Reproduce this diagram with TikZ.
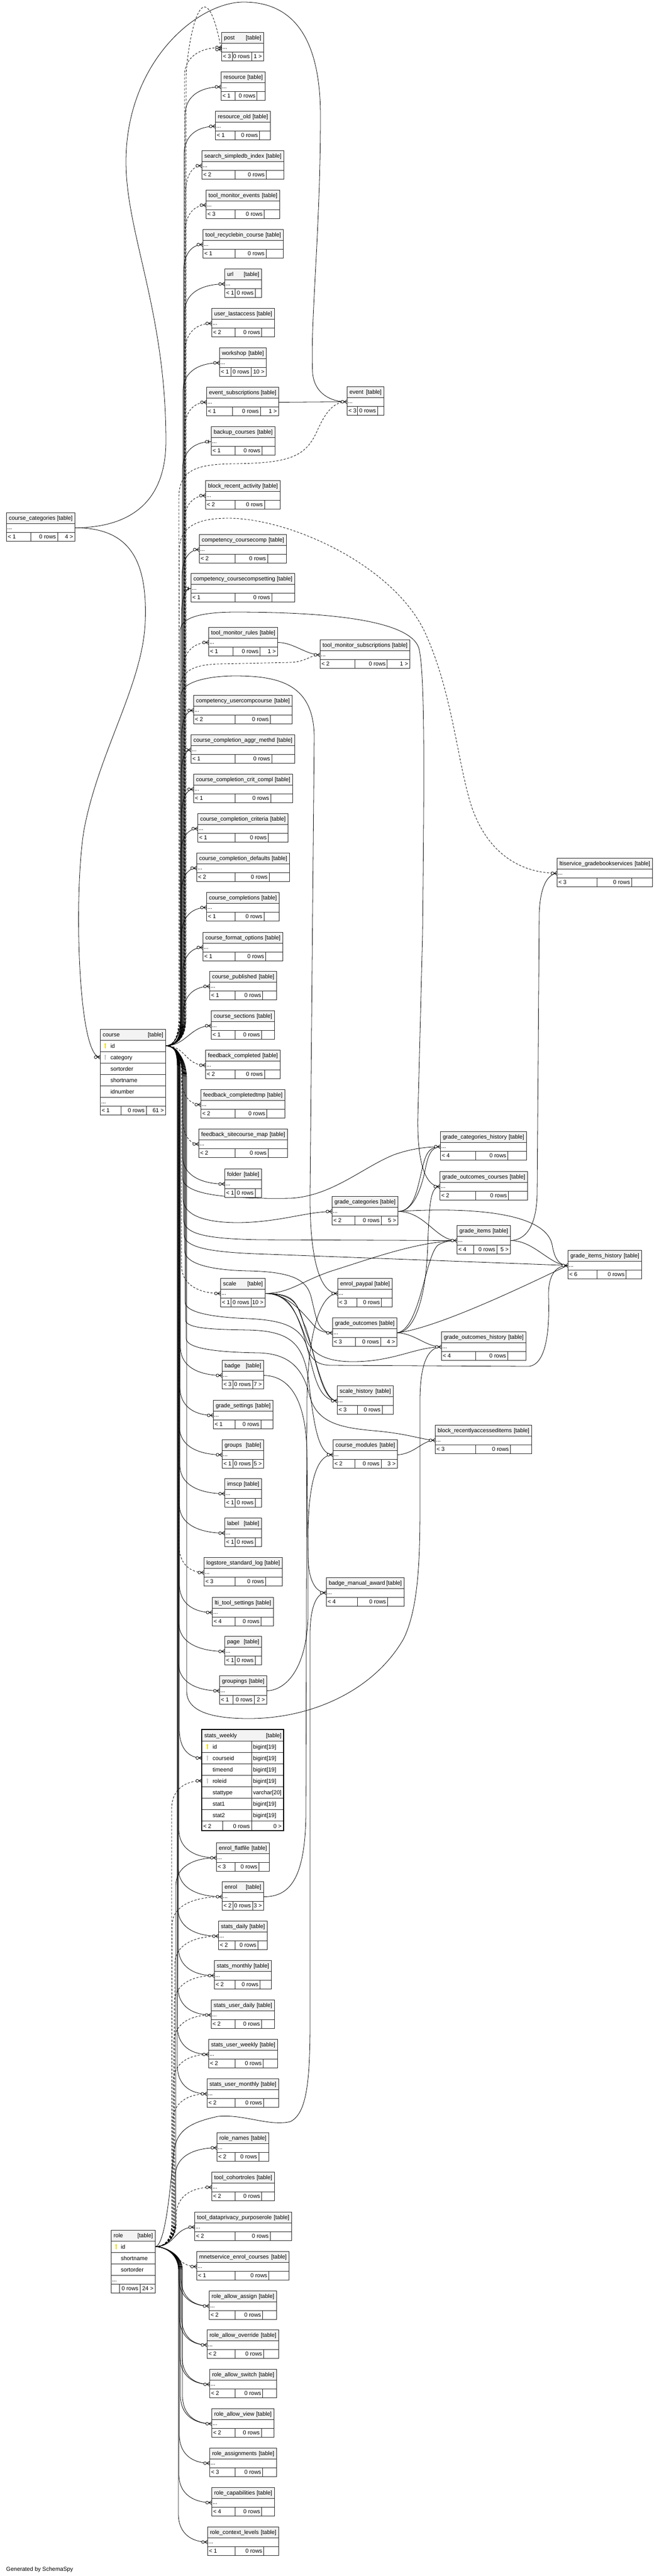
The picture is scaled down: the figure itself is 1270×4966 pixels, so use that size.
\documentclass[tikz,border=0pt]{standalone}
\usepackage{fontspec}
\setmainfont{Liberation Sans}
\usetikzlibrary{calc}
\pgfdeclarelayer{bgl}\pgfdeclarelayer{lnl}\pgfsetlayers{bgl,lnl,main}
\definecolor{hdr}{HTML}{F3F3F3}
\definecolor{bdc}{HTML}{222222}
\definecolor{pkc}{HTML}{EEDD00}
\definecolor{fkc}{HTML}{C4C4C4}
\tikzset{
  rel/.style={line width=0.8pt,draw=black},
  dsh/.style={dash pattern=on 4pt off 3pt},
  bd/.style={draw=bdc,line width=0.9pt},
  txt/.style={inner sep=0pt,outer sep=0pt,font=\fontsize{11}{13}\selectfont},
  crow/.pic={\draw[line width=0.8pt] (-5.5,0)--(0,-3.5) (-5.5,0)--(0,0) (-5.5,0)--(0,3.5);
             \draw[line width=0.8pt,fill=white] (-8.5,0) circle (2.7pt);},
  crowbar/.pic={\draw[line width=0.8pt] (-4.5,-3.5)--(-4.5,3.5) (-5.5,0)--(0,0);
             \draw[line width=0.8pt,fill=white] (-8.2,0) circle (2.7pt);}
}
\newcommand\tcore[7]{%
  \node[inner sep=0pt,outer sep=0pt,minimum width={#4pt-#3pt},minimum height=55pt,anchor=north west,fill=white] (#1) at (#3,#5) {};
  \fill[hdr] (#3,#5) rectangle (#4,#5+21);
  \draw[bd] (#3,#5) rectangle (#4,#5+55);
  \draw[bd] (#3,#5+21) -- (#4,#5+21) (#3,#5+38) -- (#4,#5+38) (\tbA,#5+38) -- (\tbA,#5+55) (\tbB,#5+38) -- (\tbB,#5+55);
  \node[txt,anchor=base west] (#1-n) at (#3+5,#5+14.5) {#2};
  \node[txt,anchor=base east] (#1-k) at (#4-4,#5+14.5) {[table]};
  \node[txt,anchor=base west] (#1-e) at (#3+2,#5+32.5) {...};
  \node[txt,anchor=base west] (#1-l) at (#3+3,#5+50.5) {#6};
  \node[txt,anchor=base east] (#1-m) at (\tbB-3,#5+50.5) {0 rows};
  \node[txt,anchor=base east] (#1-r) at (#4-3,#5+50.5) {#7};
  \coordinate (#1-in) at (#3,#5+29.5);
  \coordinate (#1-out) at (#4,#5+29.5);
}
\newcommand\tbox[6]{%
  \pgfmathsetmacro\tbA{(#3+#4)/2-15}%
  \pgfmathsetmacro\tbB{(#3+#4)/2+(#4-#3)/4+6}%
  \tcore{#1}{#2}{#3}{#4}{#5}{#6}{}}
\newcommand\tboxr[9]{%
  \pgfmathsetmacro\tbA{(#3+#4)/2-#8}%
  \pgfmathsetmacro\tbB{#4-max(#9,(#4-#3)/4)}%
  \tcore{#1}{#2}{#3}{#4}{#5}{#6}{#7}}
\newcommand\fkt[4][]{%
  \draw[rel,#1] let \p1=(#2), \p2=(#3),
    \n1={\y1+ifthenelse(\y2>\y1,15,-15)},
    \n2={\y1+ifthenelse(\y2>\y1,45,-45)},
    \n3={\y2+ifthenelse(\y2>\y1,-55,55)},
    \n4={\y2+ifthenelse(\y2>\y1,-14,14)},
    \n5={(\x2+#4pt)/2}
  in (\p1) .. controls ({\x1+20pt},\y1) and (#4pt,{\n1*1pt}) .. (#4pt,{\n2*1pt})
     -- (#4pt,{\n3*1pt}) .. controls (#4pt,{\n4*1pt}) and ({\n5*1pt},\y2) .. (\p2);}
\newcommand\fkd[3][]{\draw[rel,#1] (#2) .. controls +(40,0) and +(-40,0) .. (#3);}
\newcommand\keyic[3]{\fill[#3] (#1,#2-3) circle (1.9pt); \fill[#3] (#1-0.6,#2-2) rectangle (#1+0.6,#2+5);}
\begin{document}
\begin{tikzpicture}[x=1pt,y=-1pt]
\begin{pgfonlayer}{bgl}
\fill[white] (0,0) rectangle (1270,4966);
\end{pgfonlayer}
\useasboundingbox (0,0) rectangle (1270,4966);

% ---------- middle column ----------
\tboxr{post}{post}{427}{508}{62}{< 3}{1 >}{19}{23}
\tbox{res}{resource}{426}{511}{138}{< 1}
\tbox{resold}{resource\_old}{415}{521}{214}{< 1}
\tbox{ssi}{search\_simpledb\_index}{389}{547}{290}{< 2}
\tbox{tme}{tool\_monitor\_events}{397}{539}{366}{< 3}
\tbox{trc}{tool\_recyclebin\_course}{391}{546}{442}{< 1}
\tbox{url}{url}{433}{504}{518}{< 1}
\tbox{ula}{user\_lastaccess}{408}{529}{594}{< 2}
\tboxr{ws}{workshop}{423}{513}{670}{< 1}{10 >}{22.5}{29}
\tboxr{es}{event\_subscriptions}{398}{537}{746}{< 1}{1 >}{19}{23}
\tbox{bc}{backup\_courses}{407}{530}{822}{< 1}
\tbox{bra}{block\_recent\_activity}{396}{540}{926}{< 2}
\tbox{ccomp}{competency\_coursecomp}{384}{552}{1030}{< 2}
\tbox{ccset}{competency\_coursecompsetting}{368}{568}{1105}{< 1}
\tboxr{tmr}{tool\_monitor\_rules}{402}{535}{1209}{< 1}{1 >}{19}{23}
\tbox{cuc}{competency\_usercompcourse}{373}{563}{1340}{< 2}
\tbox{ccam}{course\_completion\_aggr\_methd}{368}{568}{1416}{< 1}
\tbox{cccc}{course\_completion\_crit\_compl}{373}{564}{1492}{< 1}
\tbox{ccri}{course\_completion\_criteria}{381}{555}{1568}{< 1}
\tbox{ccd}{course\_completion\_defaults}{379}{558}{1644}{< 2}
\tbox{ccs}{course\_completions}{398}{538}{1720}{< 1}
\tbox{cfo}{course\_format\_options}{391}{545}{1797}{< 1}
\tbox{cpub}{course\_published}{404}{533}{1872}{< 1}
\tbox{csec}{course\_sections}{407}{529}{1948}{< 1}
\tbox{fbc}{feedback\_completed}{396}{540}{2024}{< 2}
\tbox{fbct}{feedback\_completedtmp}{387}{549}{2100}{< 2}
\tbox{fbsm}{feedback\_sitecourse\_map}{383}{554}{2176}{< 2}
\tbox{folder}{folder}{433}{504}{2253}{< 1}
\tboxr{scale}{scale}{425}{511}{2464}{< 1}{10 >}{22.5}{27}
\tboxr{badge}{badge}{428}{508}{2622}{< 3}{7 >}{19}{21}
\tbox{gset}{grade\_settings}{411}{526}{2699}{< 1}
\tboxr{groups}{groups}{428}{508}{2775}{< 1}{5 >}{19}{21}
\tbox{imscp}{imscp}{433}{504}{2850}{< 1}
\tbox{label}{label}{433}{504}{2926}{< 1}
\tbox{lsl}{logstore\_standard\_log}{393}{544}{3002}{< 3}
\tbox{lts}{lti\_tool\_settings}{409}{527}{3079}{< 4}
\tbox{page}{page}{433}{504}{3154}{< 1}
\tboxr{grp}{groupings}{423}{514}{3230}{< 1}{2 >}{19}{24}
\tbox{ef}{enrol\_flatfile}{417}{519}{3552}{< 3}
\tboxr{enrol}{enrol}{428}{508}{3627}{< 2}{3 >}{19}{21}
\tbox{sd}{stats\_daily}{421}{515}{3703}{< 2}
\tbox{sm}{stats\_monthly}{413}{523}{3779}{< 2}
\tbox{sud}{stats\_user\_daily}{407}{529}{3855}{< 2}
\tbox{suw}{stats\_user\_weekly}{402}{535}{3931}{< 2}
\tbox{sum}{stats\_user\_monthly}{399}{537}{4007}{< 2}
\tbox{rn}{role\_names}{418}{518}{4111}{< 2}
\tbox{tcr}{tool\_cohortroles}{408}{529}{4187}{< 2}
\tbox{tdpr}{tool\_dataprivacy\_purposerole}{375}{562}{4264}{< 2}
\tbox{mnet}{mnetservice\_enrol\_courses}{379}{557}{4340}{< 1}
\tbox{raa}{role\_allow\_assign}{403}{533}{4416}{< 2}
\tbox{rao}{role\_allow\_override}{399}{537}{4491}{< 2}
\tbox{ras}{role\_allow\_switch}{404}{533}{4567}{< 2}
\tbox{rav}{role\_allow\_view}{408}{528}{4643}{< 2}
\tbox{rass}{role\_assignments}{404}{533}{4719}{< 3}
\tbox{rcap}{role\_capabilities}{408}{529}{4795}{< 4}
\tbox{rcl}{role\_context\_levels}{400}{537}{4871}{< 1}

% ---------- right side ----------
\tbox{event}{event}{669}{740}{745}{< 3}
\tboxr{tms}{tool\_monitor\_subscriptions}{617}{790}{1233}{< 2}{1 >}{19.5}{23}
\tbox{lti}{ltiservice\_gradebookservices}{1074}{1258}{1654}{< 3}
\tbox{gch}{grade\_categories\_history}{849}{1015}{2181}{< 4}
\tbox{goc}{grade\_outcomes\_courses}{848}{1017}{2258}{< 2}
\tboxr{gc}{grade\_categories}{640}{767}{2306}{< 2}{5 >}{19.5}{23}
\tboxr{gi}{grade\_items}{881}{984}{2362}{< 4}{5 >}{19.5}{23}
\tbox{gih}{grade\_items\_history}{1095}{1237}{2410}{< 6}
\tbox{ep}{enrol\_paypal}{651}{756}{2464}{< 3}
\tboxr{go}{grade\_outcomes}{641}{765}{2540}{< 3}{4 >}{18}{23}
\tbox{goh}{grade\_outcomes\_history}{851}{1014}{2567}{< 4}
\tbox{sh}{scale\_history}{650}{758}{2671}{< 3}
\tbox{brai}{block\_recentlyaccesseditems}{839}{1025}{2747}{< 3}
\tboxr{cm}{course\_modules}{642}{766}{2775}{< 2}{3 >}{20}{23}
\tbox{bma}{badge\_manual\_award}{629}{779}{3041}{< 4}
\tboxr{cc}{course\_categories}{12}{144}{988}{< 1}{4 >}{19}{23}

% ---------- course ----------
\node[inner sep=0pt,outer sep=0pt,minimum width=126pt,minimum height=165pt,anchor=north west,fill=white] (course) at (193,1984) {};
\fill[hdr] (193,1984) rectangle (319,2005);
\draw[bd] (193,1984) rectangle (319,2149);
\foreach \yy in {2005,2027,2049,2071,2093,2115,2132} \draw[bd] (193,\yy) -- (319,\yy);
\draw[bd] (233,2132) -- (233,2149) (282,2132) -- (282,2149);
\node[txt,anchor=base west] (course-n) at (198,1998.5) {course};
\node[txt,anchor=base east] (course-k) at (315,1998.5) {[table]};
\node[txt,anchor=base west] (course-c1) at (213,2020) {id};
\node[txt,anchor=base west] (course-c2) at (213,2042) {category};
\node[txt,anchor=base west] (course-c3) at (213,2064) {sortorder};
\node[txt,anchor=base west] (course-c4) at (213,2086) {shortname};
\node[txt,anchor=base west] (course-c5) at (213,2108) {idnumber};
\node[txt,anchor=base west] (course-e) at (195,2127) {...};
\node[txt,anchor=base west] (course-l) at (196,2144.5) {< 1};
\node[txt,anchor=base east] (course-m) at (279,2144.5) {0 rows};
\node[txt,anchor=base east] (course-r) at (316,2144.5) {61 >};
\keyic{203}{2016}{pkc}
\keyic{203}{2038}{fkc}
\coordinate (course-id) at (319,2016);
\coordinate (course-cat) at (193,2038);

% ---------- role ----------
\node[inner sep=0pt,outer sep=0pt,minimum width=85pt,minimum height=121pt,anchor=north west,fill=white] (role) at (214,4299) {};
\fill[hdr] (214,4299) rectangle (299,4320);
\draw[bd] (214,4299) rectangle (299,4420);
\foreach \yy in {4320,4342,4364,4386,4403} \draw[bd] (214,\yy) -- (299,\yy);
\draw[bd] (230,4403) -- (230,4420) (270,4403) -- (270,4420);
\node[txt,anchor=base west] (role-n) at (219,4313.5) {role};
\node[txt,anchor=base east] (role-k) at (295,4313.5) {[table]};
\node[txt,anchor=base west] (role-c1) at (233,4335) {id};
\node[txt,anchor=base west] (role-c2) at (233,4357) {shortname};
\node[txt,anchor=base west] (role-c3) at (233,4379) {sortorder};
\node[txt,anchor=base west] (role-e) at (216,4398) {...};
\node[txt,anchor=base east] (role-m) at (267,4415.5) {0 rows};
\node[txt,anchor=base east] (role-r) at (296,4415.5) {24 >};
\keyic{224}{4331}{pkc}
\coordinate (role-id) at (299,4331);

% ---------- stats_weekly ----------
\node[inner sep=0pt,outer sep=0pt,minimum width=158pt,minimum height=195pt,anchor=north west,fill=white] (sw) at (389,3334) {};
\fill[hdr] (389,3334) rectangle (547,3356);
\foreach \yy in {3356,3378,3400,3422,3444,3466,3488,3510} \draw[bd] (389,\yy) -- (547,\yy);
\draw[bd] (485,3356) -- (485,3529) (429,3510) -- (429,3529);
\draw[draw=black,line width=2pt] (389,3334) rectangle (547,3529);
\node[txt,anchor=base west] (sw-n) at (394,3349.5) {stats\_weekly};
\node[txt,anchor=base east] (sw-k) at (543,3349.5) {[table]};
\node[txt,anchor=base west] (sw-c1) at (410,3371) {id};
\node[txt,anchor=base west] (sw-c2) at (410,3393) {courseid};
\node[txt,anchor=base west] (sw-c3) at (410,3415) {timeend};
\node[txt,anchor=base west] (sw-c4) at (410,3437) {roleid};
\node[txt,anchor=base west] (sw-c5) at (410,3459) {stattype};
\node[txt,anchor=base west] (sw-c6) at (410,3481) {stat1};
\node[txt,anchor=base west] (sw-c7) at (410,3503) {stat2};
\node[txt,anchor=base west] (sw-t1) at (488,3371) {bigint[19]};
\node[txt,anchor=base west] (sw-t2) at (488,3393) {bigint[19]};
\node[txt,anchor=base west] (sw-t3) at (488,3415) {bigint[19]};
\node[txt,anchor=base west] (sw-t4) at (488,3437) {bigint[19]};
\node[txt,anchor=base west] (sw-t5) at (488,3459) {varchar[20]};
\node[txt,anchor=base west] (sw-t6) at (488,3481) {bigint[19]};
\node[txt,anchor=base west] (sw-t7) at (488,3503) {bigint[19]};
\node[txt,anchor=base west] (sw-l) at (392,3524) {< 2};
\node[txt,anchor=base east] (sw-m) at (482,3524) {0 rows};
\node[txt,anchor=base east] (sw-r) at (543,3524) {0 >};
\keyic{400}{3367}{pkc}
\keyic{400}{3389}{fkc}
\keyic{400}{3433}{fkc}
\coordinate (sw-course) at (389,3389);
\coordinate (sw-role) at (389,3433);

\node[txt,anchor=base west] (gen) at (12,4956) {Generated by SchemaSpy};

% ---------- connectors ----------
\begin{pgfonlayer}{lnl}
% course_categories
\draw[rel] (cc-out) .. controls (250,1017) and (285,1080) .. (280,1200) .. controls (275,1320) and (190,1450) .. (162,1600) .. controls (142,1720) and (150,2038) .. (course-cat);
\draw[rel] (cc-out) .. controls (260,1017) and (320,960) .. (320,850) .. controls (320,600) and (243,450) .. (243,312) .. controls (243,120) and (380,4) .. (470,4) .. controls (570,4) and (618,80) .. (618,223) .. controls (618,450) and (598,620) .. (603,720) .. controls (607,760) and (640,775) .. (event-in);
% course children above
\fkt[dsh]{course-id}{post-in}{356}
\draw[rel,dsh] let \p1=(post-in) in (course-id) .. controls (339,2016) and (359,1990) .. (359,1960) -- (359,150) .. controls (359,100) and (390,{-\y1+4}) .. ($(post-in)+(0,4)$);
\fkt{course-id}{res-in}{357}
\fkt{course-id}{resold-in}{355}
\fkt[dsh]{course-id}{ssi-in}{358}
\fkt[dsh]{course-id}{tme-in}{357}
\fkt{course-id}{trc-in}{354}
\fkt{course-id}{url-in}{356}
\fkt[dsh]{course-id}{ula-in}{357}
\fkt{course-id}{ws-in}{353}
\fkt[dsh]{course-id}{es-in}{356}
\fkt{course-id}{bc-in}{352}
\fkt[dsh]{course-id}{bra-in}{355}
\fkt{course-id}{ccomp-in}{351}
\fkt{course-id}{ccset-in}{350}
\fkt[dsh]{course-id}{tmr-in}{353}
\fkt{course-id}{cuc-in}{350}
\fkt{course-id}{ccam-in}{349}
\fkt{course-id}{cccc-in}{350}
\fkt{course-id}{ccri-in}{348}
\fkt{course-id}{ccd-in}{349}
\fkt{course-id}{ccs-in}{350}
\fkt{course-id}{cfo-in}{352}
\fkt{course-id}{cpub-in}{353}
\fkd{course-id}{csec-in}
\fkd[dsh]{course-id}{fbc-in}
\fkt[dsh]{course-id}{fbct-in}{350}
\fkt[dsh]{course-id}{fbsm-in}{352}
% course children below
\fkt{course-id}{folder-in}{352}
\fkt[dsh]{course-id}{scale-in}{350}
\fkt{course-id}{badge-in}{348}
\fkt{course-id}{gset-in}{347}
\fkt{course-id}{groups-in}{346}
\fkt{course-id}{imscp-in}{347}
\fkt{course-id}{label-in}{346}
\fkt[dsh]{course-id}{lsl-in}{345}
\fkt{course-id}{lts-in}{346}
\fkt{course-id}{page-in}{345}
\fkt{course-id}{grp-in}{344}
\fkt{course-id}{sw-course}{346}
\fkt{course-id}{ef-in}{345}
\fkt{course-id}{enrol-in}{344}
\fkt{course-id}{sd-in}{343}
\fkt{course-id}{sm-in}{344}
\fkt{course-id}{sud-in}{343}
\fkt{course-id}{suw-in}{342}
\fkt{course-id}{sum-in}{342}
% course -> right side, long paths
\draw[rel,dsh] (course-id) .. controls (339,2016) and (345,1990) .. (345,1960) -- (345,960) .. controls (345,905) and (380,895) .. (450,894) .. controls (560,893) and (590,880) .. (612,830) .. controls (630,790) and (645,775) .. (event-in);
\draw[rel,dsh] (course-id) .. controls (339,2016) and (346,1990) .. (346,1960) -- (346,1060) .. controls (346,1010) and (390,999) .. (440,999) .. controls (560,999) and (760,1090) .. (820,1220) .. controls (870,1330) and (880,1450) .. (905,1540) .. controls (930,1630) and (990,1683) .. (lti-in);
\draw[rel,dsh] (course-id) .. controls (339,2016) and (347,1990) .. (347,1960) -- (347,1330) .. controls (347,1295) and (370,1282) .. (420,1280) -- (560,1277) .. controls (590,1276) and (600,1262) .. (tms-in);
\draw[rel] (course-id) .. controls (339,2016) and (348,1990) .. (348,1960) -- (348,1215) .. controls (348,1190) and (390,1180) .. (454,1180) .. controls (600,1180) and (790,1190) .. (808,1250) .. controls (820,1300) and (818,1500) .. (815,1800) -- (806,2150) .. controls (804,2240) and (820,2287) .. (goc-in);
\draw[rel] (course-id) .. controls (339,2016) and (349,1990) .. (349,1960) -- (349,1340) .. controls (349,1315) and (400,1303) .. (454,1303) .. controls (540,1303) and (605,1320) .. (606,1420) -- (598,2300) .. controls (597,2420) and (615,2493) .. (ep-in);
\draw[rel] (course-id) .. controls (339,2016) and (352,2040) .. (352,2080) -- (352,2270) .. controls (352,2300) and (420,2312) .. (560,2310) .. controls (640,2306) and (700,2250) .. (760,2226) .. controls (800,2212) and (830,2211) .. (gch-in);
\draw[rel] (course-id) .. controls (339,2016) and (353,2040) .. (353,2080) -- (353,2310) .. controls (353,2345) and (400,2357) .. (460,2357) .. controls (540,2356) and (590,2336) .. (gc-in);
\draw[rel] (course-id) .. controls (339,2016) and (354,2040) .. (354,2080) -- (354,2350) .. controls (354,2380) and (400,2388) .. (500,2390) -- (gi-in);
\draw[rel] (course-id) .. controls (339,2016) and (355,2040) .. (355,2080) -- (355,2380) .. controls (355,2408) and (420,2415) .. (520,2418) -- (gih-in);
\draw[rel] (course-id) .. controls (339,2016) and (356,2040) .. (356,2080) -- (356,2410) .. controls (356,2440) and (420,2449) .. (480,2450) .. controls (570,2452) and (592,2470) .. (600,2500) .. controls (610,2540) and (612,2569) .. (go-in);
\draw[rel] (course-id) .. controls (339,2016) and (357,2040) .. (357,2080) -- (357,2510) .. controls (357,2532) and (420,2540) .. (480,2542) .. controls (540,2545) and (575,2555) .. (590,2590) .. controls (605,2640) and (610,2700) .. (sh-in);
\draw[rel] (course-id) .. controls (339,2016) and (358,2040) .. (358,2080) -- (358,2545) .. controls (358,2562) and (420,2563) .. (480,2564) .. controls (560,2566) and (585,2590) .. (595,2660) .. controls (605,2740) and (612,2804) .. (cm-in);
\draw[rel] (course-id) .. controls (339,2016) and (359,2040) .. (359,2080) -- (359,2580) .. controls (359,2600) and (420,2607) .. (500,2608) .. controls (560,2610) and (585,2640) .. (597,2690) .. controls (610,2740) and (650,2752) .. (720,2758) .. controls (790,2764) and (815,2776) .. (brai-in);
\draw[rel] (course-id) .. controls (339,2016) and (360,2040) .. (360,2080) -- (360,3260) .. controls (360,3300) and (410,3313) .. (480,3313) .. controls (600,3313) and (720,3260) .. (778,3160) .. controls (808,3100) and (810,3000) .. (810,2900) -- (810,2700) .. controls (810,2630) and (825,2597) .. (goh-in);
% table to table
\draw[rel] (es-out) -- (event-in);
\draw[rel] (tmr-out) .. controls (565,1238) and (590,1262) .. (tms-in);
\draw[rel] (scale-out) .. controls (560,2493) and (580,2470) .. (640,2450) .. controls (720,2425) and (800,2395) .. (gi-in);
\draw[rel] (scale-out) .. controls (580,2493) and (570,2520) .. (590,2560) .. controls (610,2620) and (620,2700) .. (sh-in);
\draw[rel] (scale-out) .. controls (585,2495) and (575,2530) .. (595,2580) .. controls (612,2630) and (625,2700) .. (sh-in);
\draw[rel] (scale-out) .. controls (560,2493) and (590,2540) .. (610,2560) .. controls (620,2568) and (630,2569) .. (go-in);
\draw[rel] (scale-out) .. controls (560,2493) and (570,2530) .. (585,2570) .. controls (595,2610) and (600,2632) .. (640,2632) -- (1020,2634) .. controls (1055,2630) and (1060,2560) .. (1058,2500) .. controls (1057,2460) and (1070,2440) .. (gih-in);
\draw[rel] (scale-out) .. controls (560,2493) and (575,2540) .. (590,2580) .. controls (600,2610) and (630,2625) .. (680,2625) .. controls (760,2625) and (800,2597) .. (goh-in);
\draw[rel] (gc-out) .. controls (800,2335) and (805,2290) .. (815,2250) .. controls (822,2220) and (830,2211) .. (gch-in);
\draw[rel] (gc-out) .. controls (795,2337) and (812,2295) .. (820,2255) .. controls (826,2225) and (832,2212) .. (gch-in);
\draw[rel] (gc-out) .. controls (820,2335) and (840,2391) .. (gi-in);
\draw[rel] (gc-out) .. controls (850,2330) and (1050,2325) .. (1065,2400) .. controls (1070,2430) and (1080,2439) .. (gih-in);
\draw[rel] (gi-out) .. controls (1010,2391) and (1035,2370) .. (1036,2300) -- (1040,1760) .. controls (1042,1710) and (1055,1686) .. (lti-in);
\draw[rel] (gi-out) .. controls (1030,2391) and (1060,2439) .. (gih-in);
\draw[rel] (go-out) .. controls (800,2569) and (822,2500) .. (825,2400) .. controls (828,2320) and (830,2288) .. (goc-in);
\draw[rel] (go-out) .. controls (810,2565) and (820,2420) .. (845,2400) .. controls (860,2392) and (870,2391) .. (gi-in);
\draw[rel] (go-out) .. controls (850,2560) and (1050,2460) .. (gih-in);
\draw[rel] (go-out) .. controls (800,2570) and (820,2596) .. (goh-in);
\draw[rel] (cm-out) .. controls (800,2803) and (815,2776) .. (brai-in);
\draw[rel] (grp-out) .. controls (550,3259) and (590,3220) .. (594,3120) -- (594,2950) .. controls (596,2860) and (610,2804) .. (cm-in);
\draw[rel] (badge-out) .. controls (560,2652) and (590,2700) .. (592,2800) -- (594,3000) .. controls (595,3050) and (610,3070) .. (bma-in);
\draw[rel] (enrol-out) .. controls (560,3657) and (588,3620) .. (590,3500) -- (592,2700) .. controls (594,2560) and (620,2494) .. (ep-in);
% role
\draw[rel] (role-id) .. controls (320,4331) and (330,4200) .. (335,4150) .. controls (340,4110) and (360,4093) .. (420,4080) .. controls (470,4075) and (520,4100) .. (560,4090) .. controls (590,4075) and (598,4020) .. (598,3900) -- (598,3150) .. controls (598,3100) and (610,3070) .. (bma-in);
\fkt[dsh]{role-id}{sum-in}{333}
\fkt[dsh]{role-id}{suw-in}{334}
\fkt[dsh]{role-id}{sud-in}{335}
\fkt[dsh]{role-id}{sm-in}{336}
\fkt[dsh]{role-id}{sd-in}{337}
\fkt[dsh]{role-id}{enrol-in}{332}
\fkt{role-id}{ef-in}{339}
\fkt[dsh]{role-id}{sw-role}{331}
\fkt{role-id}{rn-in}{338}
\fkt[dsh]{role-id}{tcr-in}{340}
\fkd{role-id}{tdpr-in}
\fkd[dsh]{role-id}{mnet-in}
\fkt{role-id}{raa-in}{345}
\fkt{role-id}{raa-in}{349}
\fkt{role-id}{rao-in}{346}
\fkt{role-id}{rao-in}{350}
\fkt{role-id}{ras-in}{347}
\fkt{role-id}{ras-in}{351}
\fkt{role-id}{rav-in}{348}
\fkt{role-id}{rav-in}{352}
\fkt{role-id}{rass-in}{346}
\fkt{role-id}{rcap-in}{345}
\fkt{role-id}{rcl-in}{344}
\end{pgfonlayer}

% ---------- end markers ----------
\foreach \c in {post,res,resold,ssi,tme,trc,url,ula,ws,es,bra,ccomp,tmr,cuc,ccam,cccc,ccri,ccd,ccs,cfo,cpub,csec,fbc,fbct,fbsm,folder,scale,badge,gset,groups,imscp,label,lsl,lts,page,grp,ef,enrol,sd,sm,sud,suw,sum,rn,tcr,tdpr,mnet,raa,rao,ras,rav,rass,rcap,rcl,event,tms,lti,gch,goc,gc,gi,gih,ep,go,goh,sh,brai,cm,bma}
  \pic at (\c-in) {crow};
\pic at ($(post-in)+(0,4)$) {crow};
\pic at (bc-in) {crowbar};
\pic at (ccset-in) {crowbar};
\pic at (course-cat) {crow};
\pic at (sw-course) {crow};
\pic at (sw-role) {crow};
\end{tikzpicture}
\end{document}
